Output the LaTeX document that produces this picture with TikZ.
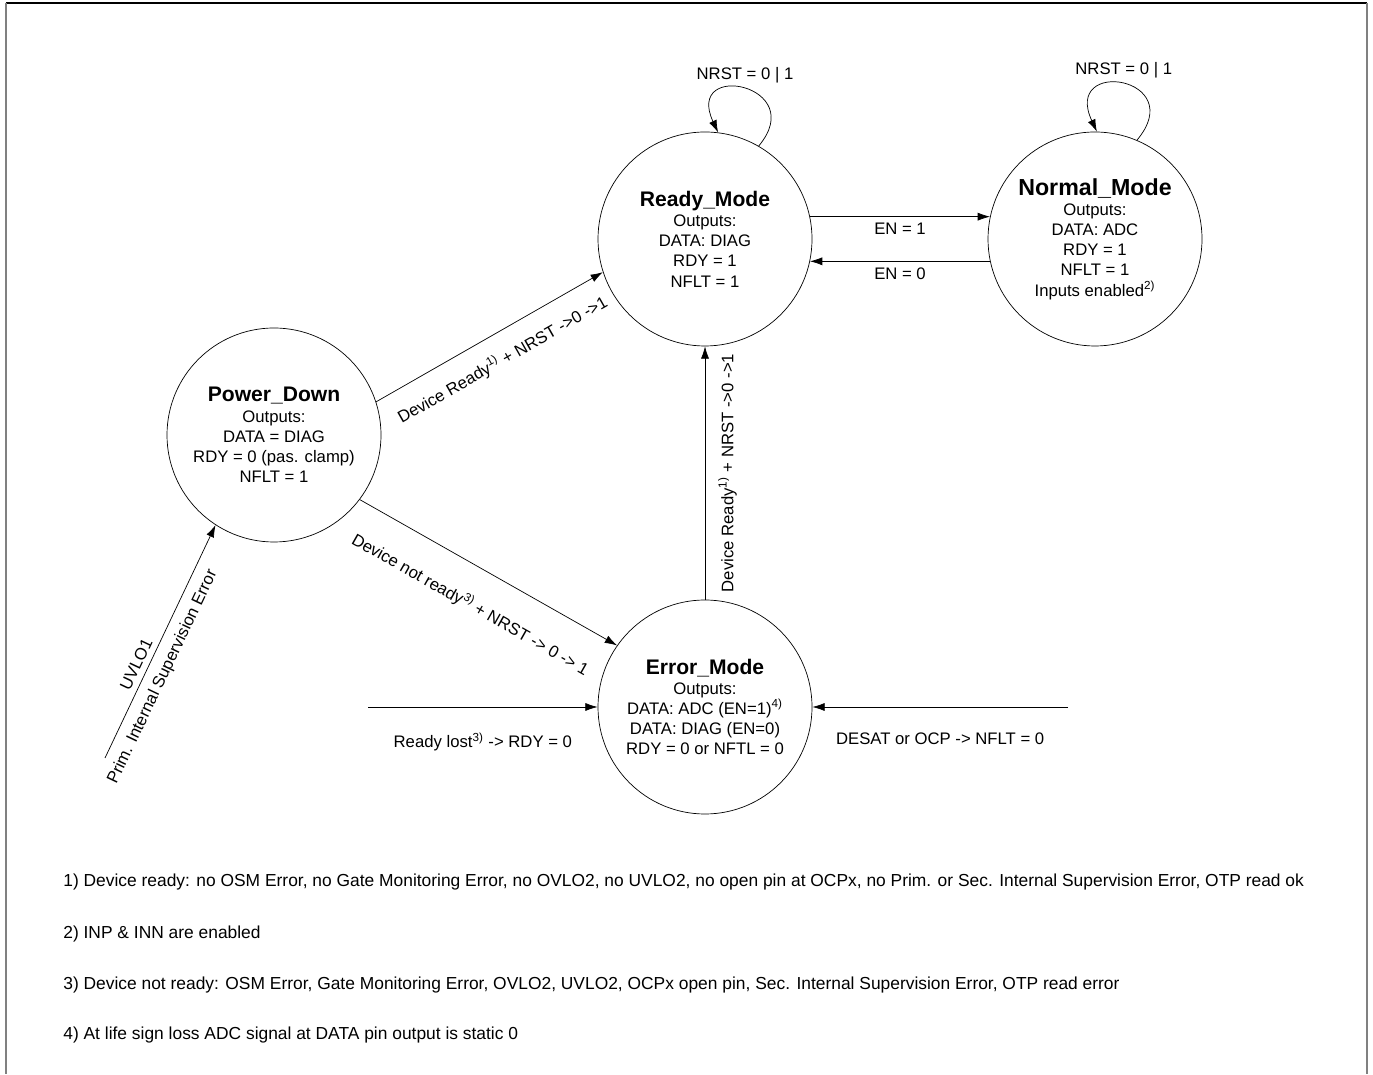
\documentclass[tikz,border=0pt]{standalone}
\usepackage{fontspec}
\setmainfont{Liberation Sans}
\usepackage{tikz}
\usetikzlibrary{calc}
\usetikzlibrary{arrows.meta}
\tikzset{>={Latex[length=7pt,width=4.6pt]}}
\newcommand{\modename}[1]{{\fontsize{12}{14}\selectfont\bfseries #1}}

\begin{document}
\begin{tikzpicture}[font=\fontsize{9.5}{11.5}\selectfont,
	modecircle/.style={draw,circle,minimum size=4.28cm,inner sep=0pt,align=center},
	remark/.style={anchor=west,inner sep=0pt,font=\fontsize{9.9}{12}\selectfont}]
	\useasboundingbox (0,0) rectangle (27.46,21.48);
	\draw[line width=0.6pt] (0.12,21.42)--(27.34,21.42);
	\draw[gray,line width=1pt] (0.12,21.42)--(0.12,0) (27.34,21.42)--(27.34,0);
	\node[modecircle] (ready) at (14.10,16.70) {\modename{Ready\_Mode}\\Outputs:\\DATA: DIAG\\RDY = 1\\NFLT = 1};
	\node[modecircle] (normal) at (21.90,16.70) {{\fontsize{13.2}{15}\selectfont\bfseries Normal\_Mode}\\Outputs:\\DATA: ADC\\RDY = 1\\NFLT = 1\\Inputs enabled\textsuperscript{2)}};
	\node[modecircle] (powerdown) at (5.48,12.78) {\modename{Power\_Down}\\Outputs:\\DATA = DIAG\\RDY = 0 (pas. clamp)\\NFLT = 1};
	\node[modecircle] (error) at (14.10,7.34) {\modename{Error\_Mode}\\Outputs:\\DATA: ADC (EN=1)\textsuperscript{4)}\\DATA: DIAG (EN=0)\\RDY = 0 or NFTL = 0};
	\coordinate (uvlo) at (2.10,6.32);
	\coordinate (lost) at (7.36,7.34);
	\coordinate (desat) at (21.36,7.34);
	\draw[->] (ready.60) .. controls +(50:1.6) and +(115:1.6) .. node[above] {NRST = 0 | 1} (ready.83);
	\draw[->] (normal.67) .. controls +(50:1.65) and +(115:1.65) .. node[above] {NRST = 0 | 1} (normal.89);
	\draw[->] (ready.12)--node[below] {EN = 1} (normal.168);
	\draw[->] (normal.192)--node[below] {EN = 0} (ready.-12);
	\draw[->] (powerdown.18)--node[midway,sloped,below=6pt] {Device Ready\textsuperscript{1)} + NRST ->0 ->1} (ready.198);
	\draw[->] (powerdown.-37)--node[midway,sloped,below=12pt] {Device not ready\textsuperscript{3)} + NRST -> 0 -> 1} (error.145);
	\draw[->] (error.north)--node[midway,sloped,below=4pt] {Device Ready\textsuperscript{1)} + NRST ->0 ->1} (ready.south);
	\draw[->] (uvlo)--node[pos=0.38,sloped,above] {UVLO1} node[pos=0.38,sloped,below=2pt] {Prim. Internal Supervision Error} (powerdown.237);
	\draw[->] (lost)--node[below=11pt] {Ready lost\textsuperscript{3)} -> RDY = 0} (error.west);
	\draw[->] (desat)--node[below=11pt] {DESAT or OCP -> NFLT = 0} (error.east);
	\node[remark] (note1) at (1.26,3.84) {1) Device ready: no OSM Error, no Gate Monitoring Error, no OVLO2, no UVLO2, no open pin at OCPx, no Prim. or Sec. Internal Supervision Error, OTP read ok};
	\node[remark] (note2) at (1.26,2.80) {2) INP \& INN are enabled};
	\node[remark] (note3) at (1.26,1.78) {3) Device not ready: OSM Error, Gate Monitoring Error, OVLO2, UVLO2, OCPx open pin, Sec. Internal Supervision Error, OTP read error};
	\node[remark] (note4) at (1.26,0.78) {4) At life sign loss ADC signal at DATA pin output is static 0};
\end{tikzpicture}
\end{document}
